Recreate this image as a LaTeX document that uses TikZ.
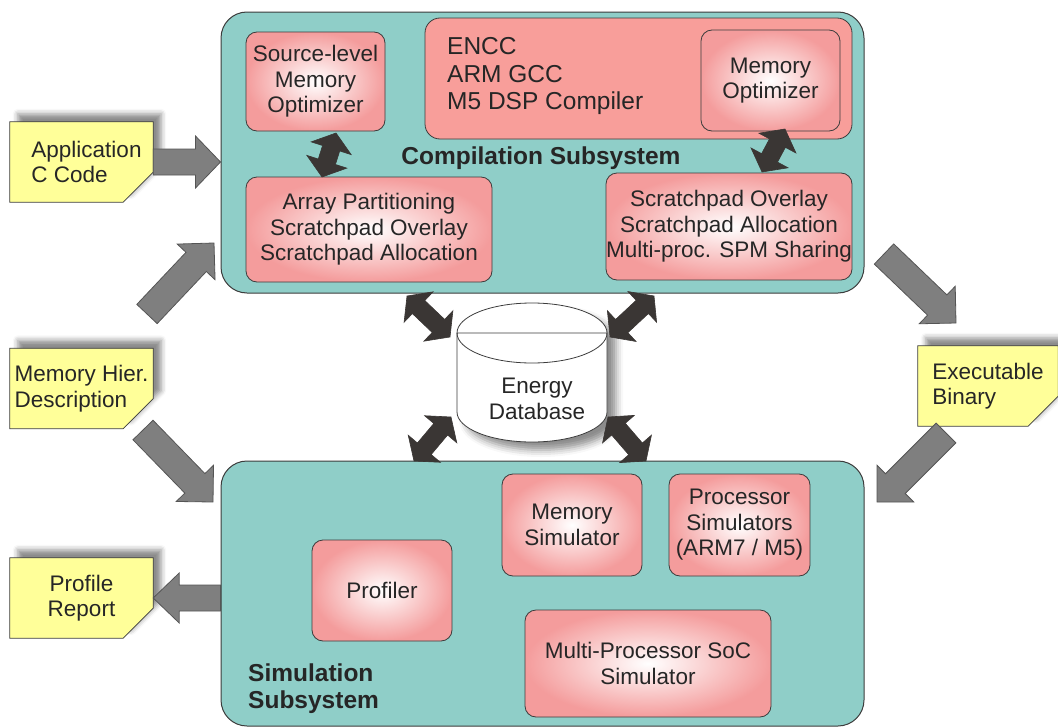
\documentclass[tikz,border=0pt]{standalone}
\usepackage{fontspec}
\setmainfont{Liberation Sans}
\usetikzlibrary{calc,shadows.blur}

\definecolor{subteal}{HTML}{8FCEC8}
\definecolor{compsalmon}{HTML}{F89E9A}
\definecolor{boxpink}{HTML}{F49C9C}
\definecolor{noteyellow}{HTML}{FFFF99}
\definecolor{edgegray}{HTML}{3C3C3C}
\definecolor{arrowgray}{HTML}{7F7F7F}
\definecolor{arrowedge}{HTML}{555555}
\definecolor{arrowdark}{HTML}{3A3634}

% one-headed block arrow: style, tail, tip, half shaft, half head, head length
\newcommand{\fatarrow}[6]{%
  \coordinate (fa-b) at ($(#3)!#6!(#2)$);
  \draw[#1] ($(#2)!#4!90:(#3)$) -- ($(fa-b)!#4!90:(#3)$) -- ($(fa-b)!#5!90:(#3)$) -- (#3) -- ($(fa-b)!#5!-90:(#3)$) -- ($(fa-b)!#4!-90:(#3)$) -- ($(#2)!#4!-90:(#3)$) -- cycle;}
% two-headed block arrow
\newcommand{\duoarrow}[6]{%
  \coordinate (da-a) at ($(#2)!#6!(#3)$);
  \coordinate (da-b) at ($(#3)!#6!(#2)$);
  \draw[#1] (#2) -- ($(da-a)!#5!90:(#3)$) -- ($(da-a)!#4!90:(#3)$) -- ($(da-b)!#4!90:(#3)$) -- ($(da-b)!#5!90:(#3)$) -- (#3) -- ($(da-b)!#5!-90:(#3)$) -- ($(da-b)!#4!-90:(#3)$) -- ($(da-a)!#4!-90:(#3)$) -- ($(da-a)!#5!-90:(#3)$) -- cycle;}

\begin{document}
\begin{tikzpicture}[x=1pt, y=-1pt, every node/.style={inner sep=0pt, text=black!85, font=\fontsize{22.5}{25.5}\selectfont},%
        subsys/.style={draw=edgegray, fill=subteal, line width=1pt, rounded corners=26pt}, pinkbox/.style={draw=edgegray, line width=.8pt, inner color=white, outer color=boxpink, rounded corners=11pt, align=center},%
        notebox/.style={minimum width=143pt, minimum height=80pt}, notefill/.style={draw=edgegray, line width=.8pt, fill=noteyellow, blur shadow={shadow xshift=8pt, shadow yshift=8pt, shadow blur radius=5pt, shadow opacity=45}},%
        grayarrow/.style={draw=arrowedge, fill=arrowgray, line width=.8pt}, darkarrow/.style={draw=arrowdark, fill=arrowdark, line width=.6pt}]
    \useasboundingbox (0,0) rectangle (1058,728);

    % subsystems
    \node[subsys, minimum width=643pt, minimum height=281pt] (comp) at (542.5,152.5) {};
    \node[subsys, minimum width=643pt, minimum height=265pt] (sim) at (542.5,593.5) {};

    % compilation subsystem
    \node[draw=edgegray, fill=compsalmon, line width=.8pt, rounded corners=15pt, minimum width=427pt, minimum height=121pt] (compbox) at (638.5,78.5) {};
    \node[anchor=west, align=left, font=\fontsize{24.5}{27.5}\selectfont] (compilers) at (447,76) {ENCC\\ARM GCC\\M5 DSP Compiler};
    \node[pinkbox, minimum width=139pt, minimum height=99pt] (srcopt) at (315.5,81.5) {Source-level\\Memory\\Optimizer};
    \node[pinkbox, minimum width=139pt, minimum height=101pt] (memopt) at (770.5,80.5) {Memory\\Optimizer};
    \node[pinkbox, minimum width=246pt, minimum height=105pt] (arraybox) at (369,229.5) {Array Partitioning\\Scratchpad Overlay\\Scratchpad Allocation};
    \node[pinkbox, minimum width=246pt, minimum height=107pt] (spmbox) at (729,226.5) {Scratchpad Overlay\\Scratchpad Allocation\\Multi-proc. SPM Sharing};
    \node[font=\bfseries\fontsize{24.5}{27}\selectfont] (complabel) at (541,158) {Compilation Subsystem};

    % simulation subsystem
    \node[pinkbox, minimum width=140pt, minimum height=102pt] (memsim) at (572,525) {Memory\\Simulator};
    \node[pinkbox, minimum width=141pt, minimum height=102pt] (procsim) at (739.5,525) {Processor\\Simulators\\(ARM7 / M5)};
    \node[pinkbox, minimum width=140pt, minimum height=101pt] (profiler) at (382,590.5) {Profiler};
    \node[pinkbox, minimum width=246pt, minimum height=107pt] (mpsoc) at (648,663.5) {Multi-Processor SoC\\Simulator};
    \node[anchor=west, align=left, font=\bfseries\fontsize{24.5}{27}\selectfont] (simlabel) at (248,689) {Simulation\\Subsystem};

    % documents
    \node[notebox] (app) at (81.5,162) {};
    \node[notebox] (memhier) at (81.5,388.5) {};
    \node[notebox] (profile) at (81.5,598) {};
    \node[notebox, minimum width=140pt] (exe) at (988,386) {};
    \foreach \n in {app,memhier,profile,exe}
        \draw[notefill] (\n.north west) -- (\n.north east) -- ([yshift=30pt]\n.south east) -- ([xshift=-30pt]\n.south east) -- (\n.south west) -- cycle;
    \node[align=left] (apptext) at ([xshift=5pt]app) {Application\\C Code};
    \node[align=left] (memhiertext) at (memhier) {Memory Hier.\\Description};
    \node[align=center] (profiletext) at (profile) {Profile\\Report};
    \node[align=left] (exetext) at (exe) {Executable\\Binary};

    % energy database
    \fill[white, blur shadow={shadow xshift=9pt, shadow yshift=-8pt, shadow blur radius=7pt, shadow opacity=45}] (457,333) -- (457,412) arc[start angle=180, end angle=360, x radius=75pt, y radius=30pt] -- (607,333) arc[start angle=0, end angle=180, x radius=75pt, y radius=30pt] -- cycle;
    \draw[edgegray, line width=.8pt] (457,333) -- (457,412) arc[start angle=180, end angle=360, x radius=75pt, y radius=30pt] -- (607,333) arc[start angle=0, end angle=180, x radius=75pt, y radius=30pt];
    \draw[edgegray, line width=.8pt] (457,333) arc[start angle=180, end angle=360, x radius=75pt, y radius=30pt] (457,333) -- (607,333);
    \node[align=center] (db) at (537,399) {Energy\\Database};

    % gray block arrows
    \coordinate (mh-tail) at (143,430); \coordinate (mh-tip) at (213,502);
    \coordinate (up-tail) at (147,314); \coordinate (up-tip) at (214,243);
    \coordinate (ex-tail) at (884,254); \coordinate (ex-tip) at (956,323);
    \coordinate (bin-tail) at (946,433); \coordinate (bin-tip) at (877,502);
    \fatarrow{grayarrow}{app.east}{comp.west |- app.east}{13pt}{26pt}{25pt}
    \fatarrow{grayarrow}{up-tail}{up-tip}{14pt}{26pt}{26pt}
    \fatarrow{grayarrow}{mh-tail}{mh-tip}{14pt}{26pt}{26pt}
    \fatarrow{grayarrow}{sim.west |- profile.east}{profile.east}{13pt}{25pt}{26pt}
    \fatarrow{grayarrow}{ex-tail}{ex-tip}{14pt}{26pt}{26pt}
    \fatarrow{grayarrow}{bin-tail}{bin-tip}{14pt}{26pt}{26pt}

    % dark two-headed arrows
    \coordinate (so-a) at (336,133); \coordinate (so-b) at (322,177);
    \coordinate (mo-a) at (785,129); \coordinate (mo-b) at (762,172);
    \coordinate (tl-a) at (407,296); \coordinate (tl-b) at (450,337);
    \coordinate (tr-a) at (654,296); \coordinate (tr-b) at (610,337);
    \coordinate (bl-a) at (451,417); \coordinate (bl-b) at (414,461);
    \coordinate (br-a) at (608,417); \coordinate (br-b) at (646,461);
    \foreach \a/\b in {so-a/so-b, mo-a/mo-b, tl-a/tl-b, tr-a/tr-b, bl-a/bl-b, br-a/br-b}
        {\duoarrow{darkarrow}{\a}{\b}{9pt}{21pt}{16pt}}
\end{tikzpicture}
\end{document}
